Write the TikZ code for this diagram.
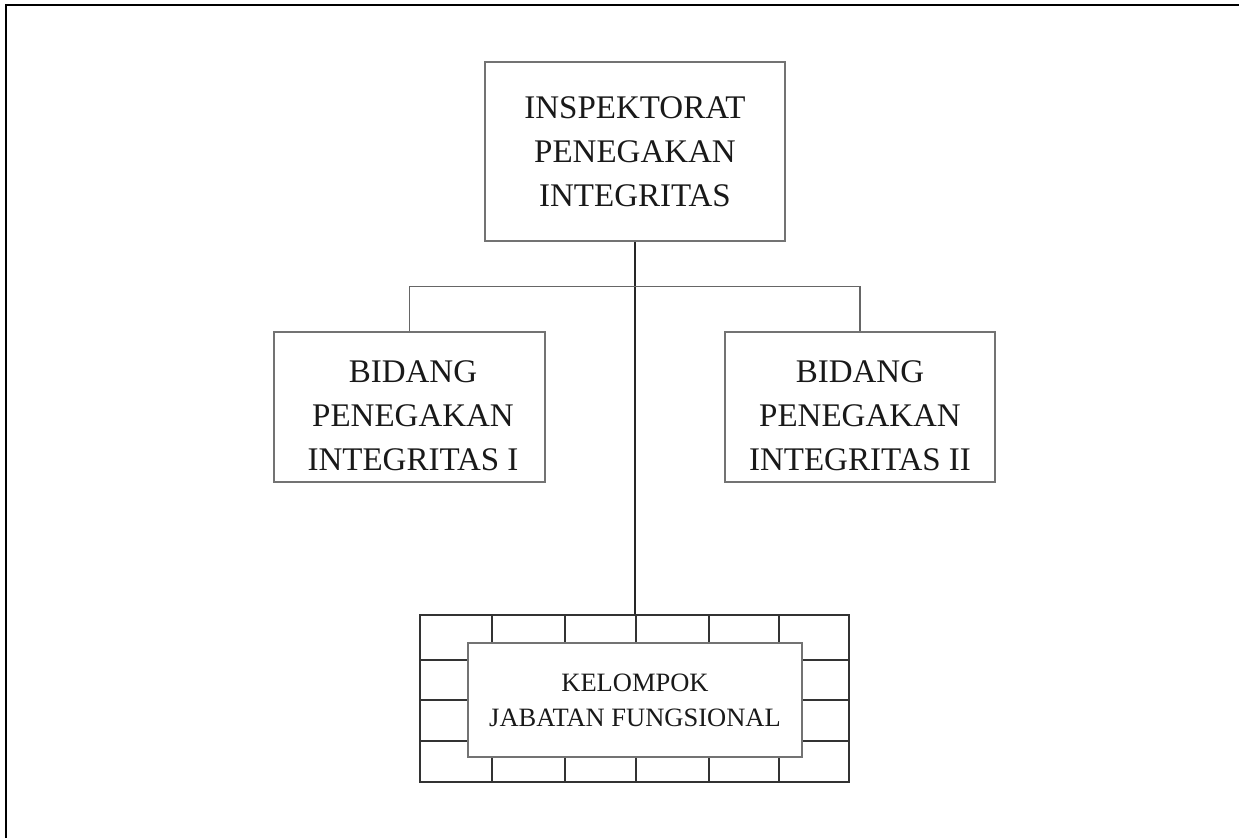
\documentclass[tikz,border=0pt]{standalone}
\usepackage{fontspec}
\setmainfont{Liberation Serif}
\begin{document}
\begin{tikzpicture}[x=1pt,y=-1pt,
  box/.style={draw=black!55,line width=1.3pt,rectangle,inner sep=0pt},
  bigtxt/.style={font=\fontsize{33}{44}\selectfont,align=center,text=black!90},
  smalltxt/.style={font=\fontsize{26.5}{35}\selectfont,align=center,text=black!90},
  conn/.style={draw=black!60,line width=1.5pt},
  mainconn/.style={draw=black!85,line width=1.3pt},
  gridline/.style={draw=black!80,line width=1.2pt}]
\useasboundingbox (0,0) rectangle (1239,838);
% outer frame (top and left only)
\draw[line width=2.5pt,black] (6,838) -- (6,5) -- (1239,5);
% top box
\node[box,minimum width=300pt,minimum height=179pt,bigtxt] (top) at (635,151.5) {INSPEKTORAT\\PENEGAKAN\\INTEGRITAS};
% left and right boxes
\node[box,minimum width=271pt,minimum height=150pt] (b1) at (409.5,407) {};
\node[bigtxt] (t1) at (413,416) {BIDANG\\PENEGAKAN\\INTEGRITAS I};
\node[box,minimum width=270pt,minimum height=150pt] (b2) at (860,407) {};
\node[bigtxt] (t2) at (860,416) {BIDANG\\PENEGAKAN\\INTEGRITAS II};
% grid frame
\node[gridline,draw,rectangle,inner sep=0pt,minimum width=429pt,minimum height=167pt] (grid) at (634.5,698.5) {};
\foreach \x in {492,565,636,709,779}{
  \draw[gridline] (\x,615) -- (\x,643);
  \draw[gridline] (\x,757) -- (\x,782);
}
\foreach \y in {660,700,741}{
  \draw[gridline] (420,\y) -- (468,\y);
  \draw[gridline] (802,\y) -- (849,\y);
}
% inner box
\node[box,fill=white,minimum width=334pt,minimum height=114pt,smalltxt] (kjf) at (635,700) {KELOMPOK\\JABATAN FUNGSIONAL};
% connectors
\draw[mainconn] (top.south) -- (grid.north -| top.south);
\draw[conn] (b1.north) -- ++(0,-45) coordinate (busl) -| (b2.north);
\end{tikzpicture}
\end{document}
